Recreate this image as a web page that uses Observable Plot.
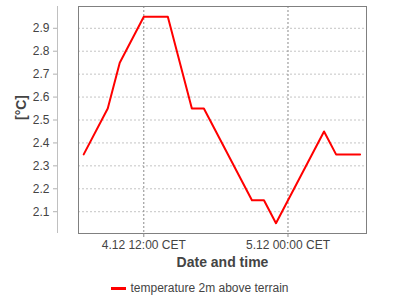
<!DOCTYPE html>
<html>
<head>
<meta charset="utf-8">
<script src="https://cdn.jsdelivr.net/npm/d3@7"></script>
<script src="https://cdn.jsdelivr.net/npm/@observablehq/plot@0.6"></script>
<style>
  html, body { margin: 0; padding: 0; background: #fff; }
  #chart { width: 400px; }
  .legend { display: flex; justify-content: center; align-items: center; height: 24px; padding-top: 4px;
    font-family: "Liberation Sans", Arial, sans-serif; font-size: 12px; color: #444; }
  .legend .sw { display: inline-block; width: 15px; height: 3px; background: #ff0000; margin-right: 4px; }
</style>
</head>
<body>
<div id="chart"></div>
<script>
const times = [
  "2023-12-04T07:00Z", "2023-12-04T09:00Z", "2023-12-04T10:00Z", "2023-12-04T12:00Z",
  "2023-12-04T13:00Z", "2023-12-04T14:00Z", "2023-12-04T16:00Z", "2023-12-04T17:00Z",
  "2023-12-04T21:00Z", "2023-12-04T22:00Z", "2023-12-04T23:00Z", "2023-12-05T03:00Z",
  "2023-12-05T04:00Z", "2023-12-05T06:00Z"
];
const temps = [2.35, 2.55, 2.75, 2.95, 2.95, 2.95, 2.55, 2.55, 2.15, 2.15, 2.05, 2.45, 2.35, 2.35];
const xTickTimes = ["2023-12-04T12:00Z", "2023-12-05T00:00Z"];
const yTicks = [2.1, 2.2, 2.3, 2.4, 2.5, 2.6, 2.7, 2.8, 2.9];
const xDomainStr = ["2023-12-04T06:34Z", "2023-12-05T06:32Z"];
const yDomain = [2.005, 2.995];
const seriesName = "temperature 2m above terrain";
const yTitle = "[°C]";
const xTitle = "Date and time";

const data = times.map((t, i) => ({t: new Date(t), v: temps[i]}));
const xTicks = xTickTimes.map(d => new Date(d));
const xDomain = xDomainStr.map(d => new Date(d));
const pad = n => String(n).padStart(2, "0");
const fmt = d => `${d.getUTCDate()}.${d.getUTCMonth() + 1} ${pad(d.getUTCHours())}:${pad(d.getUTCMinutes())} CET`;

const chart = Plot.plot({
  width: 400, height: 272,
  marginLeft: 78, marginRight: 34, marginTop: 6, marginBottom: 39,
  style: {fontFamily: "Liberation Sans, Arial, sans-serif", fontSize: "12px", color: "#444", background: "white"},
  x: {type: "utc", domain: xDomain},
  y: {domain: yDomain},
  marks: [
    Plot.gridY(yTicks, {stroke: "#c4c4c4", strokeOpacity: 1, strokeDasharray: "2,2"}),
    Plot.gridX(xTicks, {stroke: "#8a8a8a", strokeOpacity: 1, strokeDasharray: "2,2"}),
    Plot.frame({stroke: "#808080"}),
    Plot.ruleX([xDomain[0]], {dx: -21, stroke: "#c0c0c0"}),
    Plot.axisY(yTicks, {dx: -21, tickSize: 4, tickPadding: 4, tickFormat: d3.format(".1f"), label: null, stroke: "#b0b0b0"}),
    Plot.axisX(xTicks, {tickSize: 4, tickPadding: 3, tickFormat: fmt, label: null, stroke: "#8a8a8a"}),
    Plot.line(data, {x: "t", y: "v", stroke: "#ff0000", strokeWidth: 2}),
    Plot.text([yTitle], {frameAnchor: "left", dx: -57, rotate: -90, fontWeight: "bold", fontSize: 14}),
    Plot.text([xTitle], {frameAnchor: "bottom", dy: 33, fontWeight: "bold", fontSize: 14})
  ]
});
document.getElementById("chart").append(chart);

const lg = document.createElement("div");
lg.className = "legend";
lg.innerHTML = `<span class="sw"></span><span></span>`;
lg.lastChild.textContent = seriesName;
document.getElementById("chart").append(lg);
</script>
</body>
</html>
